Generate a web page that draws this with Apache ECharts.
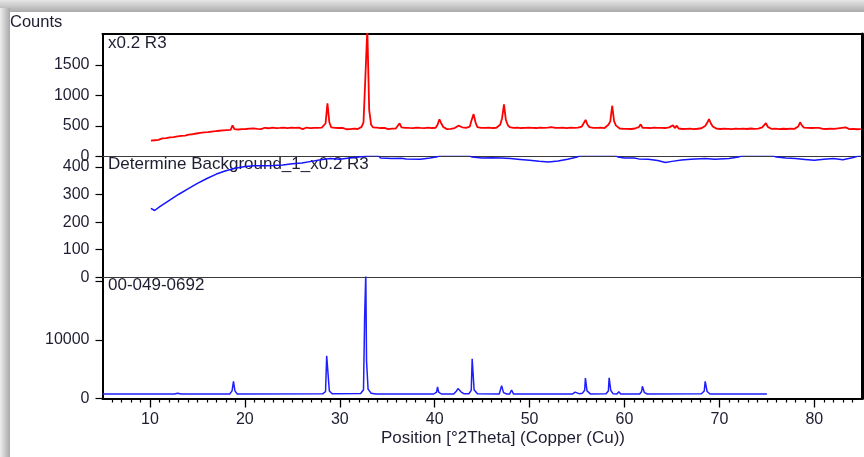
<!DOCTYPE html>
<html>
<head>
<meta charset="utf-8">
<script src="https://cdn.jsdelivr.net/npm/echarts@6/dist/echarts.min.js"></script>
<style>
  html, body { margin: 0; padding: 0; background: #fff; }
  #chart { width: 864px; height: 457px; }
</style>
</head>
<body>
<div id="chart"></div>
<script>
// Measured scan "x0.2 R3": counts at 0.2 °2θ steps, first point at 10.1 °2θ
const scanStart = 10.1;
const scanStep = 0.2;
const scanCounts = [
  258, 274, 265, 283, 271, 279, 296, 284, 300, 292, 312, 301, 318, 309, 328, 316, 338, 327, 342, 335, 356, 343, 364, 352, 376,
  366, 386, 372, 394, 381, 400, 389, 408, 396, 414, 402, 421, 409, 426, 414, 431, 419, 436, 510, 448, 424, 442, 428, 447, 433,
  450, 436, 455, 440, 460, 444, 452, 466, 447, 458, 470, 449, 462, 453, 471, 455, 465, 449, 468, 458, 474, 452, 466, 460, 472,
  455, 468, 450, 471, 459, 448, 466, 474, 455, 463, 449, 470, 458, 468, 452, 472, 482, 540, 870, 560, 475, 452, 469, 447, 466,
  451, 468, 455, 446, 463, 449, 470, 456, 466, 450, 472, 485, 560, 1310, 2100, 760, 520, 478, 455, 472, 450, 466, 452, 470, 457,
  449, 468, 455, 472, 458, 476, 543, 478, 452, 470, 456, 467, 449, 465, 457, 473, 452, 468, 450, 464, 455, 471, 458, 466, 450,
  470, 520, 610, 540, 482, 462, 448, 468, 453, 471, 466, 480, 505, 525, 478, 455, 470, 462, 490, 600, 694, 560, 480, 459, 470,
  452, 468, 455, 473, 450, 466, 449, 470, 478, 520, 628, 855, 597, 515, 482, 492, 468, 452, 471, 456, 466, 448, 469, 455, 472,
  454, 470, 449, 466, 458, 474, 451, 468, 456, 471, 462, 480, 503, 470, 452, 467, 449, 471, 456, 465, 450, 472, 457, 468, 452,
  471, 462, 490, 510, 600, 520, 480, 455, 470, 449, 468, 453, 472, 459, 466, 478, 520, 575, 832, 580, 505, 480, 458, 470, 451,
  469, 453, 471, 450, 466, 458, 472, 480, 526, 470, 452, 468, 449, 466, 455, 472, 451, 468, 457, 470, 449, 466, 458, 476, 455,
  510, 465, 505, 458, 470, 450, 467, 453, 472, 456, 465, 448, 469, 454, 471, 462, 474, 500, 548, 614, 540, 492, 472, 455, 468,
  450, 469, 455, 472, 452, 466, 449, 470, 457, 468, 451, 473, 456, 465, 450, 474, 458, 470, 452, 468, 456, 472, 478, 495, 545,
  485, 466, 451, 470, 455, 468, 449, 467, 454, 471, 450, 466, 457, 473, 452, 474, 490, 560, 505, 472, 453, 469, 450, 466, 455,
  470, 452, 467, 475, 453, 469, 450, 478, 456, 470, 451, 474, 460, 448, 468, 455, 476, 458, 449, 467, 452, 470, 446, 462, 448
];

// Fitted background "Determine Background_1_x0.2 R3": [°2θ, counts]
const backgroundCurve = [
  [10.1, 250], [10.5, 242], [11, 255], [12, 278], [13, 300], [14, 320], [15, 340], [16, 358],
  [17, 374], [18, 386], [19, 395], [20, 401], [21, 404], [22, 404], [23, 405], [24, 407],
  [25, 411], [26, 414], [27, 420], [28, 426], [29, 430], [30, 428], [31, 432], [32, 436],
  [33, 440], [34, 442], [34.3, 432], [35.5, 430], [36.5, 431], [37, 429], [38.5, 428], [39.5, 432],
  [40.3, 437], [40.6, 442], [43.6, 442], [43.9, 436], [45, 432], [46, 433], [47, 432], [48, 430],
  [49, 427], [50, 424], [51, 420], [52, 418], [53, 421], [54, 428], [55, 436], [55.4, 442],
  [59, 442], [59.3, 436], [60, 432], [61, 432], [61.5, 429], [62.5, 428], [63.5, 423], [64.3, 416],
  [65, 420], [66, 425], [67, 428], [68.5, 430], [69.5, 428], [71, 430], [72, 436], [72.5, 442],
  [75.5, 442], [76, 436], [77, 432], [78, 430], [79, 427], [80, 424], [81, 428], [82, 430],
  [83, 426], [84, 433], [84.9, 442]
];

// Reference pattern 00-049-0692: [°2θ, intensity]
const referencePattern = [
  [5.0, 750], [12.6, 755], [12.9, 900], [13.05, 1050], [13.3, 760],
  [18.4, 770], [18.65, 1300], [18.8, 2950], [18.95, 1300], [19.2, 770],
  [28.2, 800], [28.5, 1200], [28.62, 7300], [28.7, 7600], [28.78, 7000], [28.9, 1300], [29.2, 800],
  [32.2, 850], [32.5, 1500], [32.62, 14000], [32.74, 21500], [32.82, 6400], [32.92, 6200], [32.98, 1600], [33.3, 900], [33.8, 770],
  [39.9, 770], [40.2, 1100], [40.3, 2000], [40.42, 1100], [40.7, 770],
  [42.0, 780], [42.3, 1300], [42.45, 1700], [42.55, 1400], [42.65, 1750], [42.8, 1100], [43.1, 800],
  [43.6, 820], [43.85, 1400], [43.95, 6800], [44.05, 7000], [44.15, 1500], [44.5, 800],
  [46.8, 780], [47.0, 1100], [47.05, 2200], [47.12, 2100], [47.25, 1000], [47.6, 770],
  [47.9, 780], [48.1, 1450], [48.3, 780],
  [54.5, 760], [54.8, 1100], [55.0, 1150], [55.25, 800],
  [55.55, 880], [55.8, 1400], [55.88, 3500], [55.95, 3300], [56.05, 1300], [56.4, 790],
  [58.05, 800], [58.3, 1300], [58.38, 3550], [58.45, 3300], [58.55, 1400], [58.8, 800],
  [59.2, 770], [59.4, 1150], [59.6, 770],
  [61.6, 770], [61.8, 1200], [61.88, 2100], [61.95, 1800], [62.1, 1000], [62.4, 770],
  [68.1, 800], [68.4, 1300], [68.5, 2950], [68.58, 2800], [68.7, 1200], [69.0, 780],
  [75.0, 750]
];

// Axis ticks and labels
const xMajorTicks = [10, 20, 30, 40, 50, 60, 70, 80];
const xMinorTicks = [6, 7, 8, 9, 11, 12, 13, 14, 15, 16, 17, 18, 19, 21, 22, 23, 24, 25, 26, 27, 28, 29,
  31, 32, 33, 34, 35, 36, 37, 38, 39, 41, 42, 43, 44, 45, 46, 47, 48, 49, 51, 52, 53, 54, 55, 56, 57, 58, 59,
  61, 62, 63, 64, 65, 66, 67, 68, 69, 71, 72, 73, 74, 75, 76, 77, 78, 79, 81, 82, 83, 84];
const scanTicks = [0, 500, 1000, 1500];
const backgroundTicks = [0, 100, 200, 300, 400];
const referenceTicks = [0, 10000, 20000];
const referenceLabels = [0, 10000];
const panelTitles = ['x0.2 R3', 'Determine Background_1_x0.2 R3', '00-049-0692'];
const yAxisTitle = 'Counts';
const xAxisTitle = 'Position [°2Theta] (Copper (Cu))';

const scanData = scanCounts.map((v, i) => [+(scanStart + i * scanStep).toFixed(1), v]);

const FONT = '"Liberation Sans", Arial, sans-serif';
const TEXT = '#1e1e32';
const TITLE_FONT = '17px ' + FONT;
const X_MIN = 5, X_MAX = 85;
const plain = v => String(v);

const grids = [
  { left: 102.5, right: 2.2, top: 34, height: 122.4 },
  { left: 102.5, right: 2.2, top: 156.4, height: 120.9 },
  { left: 102.5, right: 2.2, top: 277.3, height: 121.2 }
];

function hiddenX(gridIndex, position, line) {
  return {
    type: 'value', gridIndex, position, min: X_MIN, max: X_MAX,
    axisLine: { show: !!line, onZero: false, lineStyle: line || {} },
    axisTick: { show: false }, axisLabel: { show: false }, splitLine: { show: false }
  };
}

function leftY(gridIndex, max, ticks, labels) {
  return {
    type: 'value', gridIndex, position: 'left', min: 0, max,
    axisLine: { show: true, lineStyle: { color: '#000', width: 2 } },
    axisTick: { show: true, customValues: ticks, length: 7, lineStyle: { color: '#000', width: 1.2 } },
    axisLabel: { show: true, customValues: labels, formatter: plain, margin: 13, color: TEXT, fontSize: 16, fontFamily: FONT },
    splitLine: { show: false }
  };
}

function rightY(gridIndex) {
  return {
    type: 'value', gridIndex, position: 'right', min: 0, max: 1,
    axisLine: { show: true, lineStyle: { color: '#000', width: 3 } },
    axisTick: { show: false }, axisLabel: { show: false }, splitLine: { show: false }
  };
}

const chart = echarts.init(document.getElementById('chart'), null, { renderer: 'canvas' });

chart.setOption({
  animation: false,
  backgroundColor: '#ffffff',
  grid: grids,
  xAxis: [
    hiddenX(0, 'bottom', { color: '#3a3a3a', width: 1.2 }),
    hiddenX(0, 'top', { color: '#000', width: 2 }),
    hiddenX(1, 'bottom', { color: '#3a3a3a', width: 1.2 }),
    {
      type: 'value', gridIndex: 2, position: 'bottom', min: X_MIN, max: X_MAX,
      axisLine: { show: true, onZero: false, lineStyle: { color: '#000', width: 2 } },
      axisTick: { show: true, customValues: xMajorTicks, length: 9, lineStyle: { color: '#000', width: 1.3 } },
      axisLabel: { show: true, customValues: xMajorTicks, formatter: plain, margin: 13, color: TEXT, fontSize: 16, fontFamily: FONT },
      splitLine: { show: false }
    },
    {
      type: 'value', gridIndex: 2, position: 'bottom', min: X_MIN, max: X_MAX,
      axisLine: { show: false },
      axisTick: { show: true, customValues: xMinorTicks, length: 4, lineStyle: { color: '#000', width: 1.2 } },
      axisLabel: { show: false }, splitLine: { show: false }
    }
  ],
  yAxis: [
    leftY(0, 2010, scanTicks, scanTicks),
    leftY(1, 438, backgroundTicks, backgroundTicks),
    leftY(2, 20750, referenceTicks, referenceLabels),
    rightY(0), rightY(1), rightY(2)
  ],
  series: [
    {
      name: panelTitles[0], type: 'line', xAxisIndex: 0, yAxisIndex: 0,
      data: scanData, showSymbol: false, symbol: 'none', clip: true,
      lineStyle: { color: '#ff0000', width: 1.8 }
    },
    {
      name: panelTitles[1], type: 'line', xAxisIndex: 2, yAxisIndex: 1,
      data: backgroundCurve, showSymbol: false, symbol: 'none', clip: true,
      lineStyle: { color: '#1414ff', width: 1.5 }
    },
    {
      name: panelTitles[2], type: 'line', xAxisIndex: 3, yAxisIndex: 2,
      data: referencePattern, showSymbol: false, symbol: 'none', clip: true,
      lineStyle: { color: '#1e1eff', width: 1.5 }
    }
  ],
  graphic: [
    // window drop shadow along the top and left edges
    {
      type: 'rect', z: -10, silent: true,
      shape: { x: 0, y: 0, width: 864, height: 12 },
      style: { fill: new echarts.graphic.LinearGradient(0, 0, 0, 1, [
        { offset: 0, color: '#e6e6e6' }, { offset: 1, color: '#ababab' }]) }
    },
    {
      type: 'rect', z: -10, silent: true,
      shape: { x: 0, y: 8, width: 10, height: 449 },
      style: { fill: new echarts.graphic.LinearGradient(0, 0, 1, 0, [
        { offset: 0, color: '#eeeeee' }, { offset: 1, color: '#a8a8a8' }]) }
    },
    { type: 'text', x: 10, y: 22, silent: true,
      style: { text: yAxisTitle, font: '16.5px ' + FONT, fill: TEXT, align: 'left', verticalAlign: 'middle' } },
    { type: 'text', x: 108, y: 43, silent: true,
      style: { text: panelTitles[0], font: TITLE_FONT, fill: TEXT, align: 'left', verticalAlign: 'middle' } },
    { type: 'text', x: 108, y: 164, silent: true,
      style: { text: panelTitles[1], font: TITLE_FONT, fill: TEXT, align: 'left', verticalAlign: 'middle' } },
    { type: 'text', x: 108, y: 285, silent: true,
      style: { text: panelTitles[2], font: TITLE_FONT, fill: TEXT, align: 'left', verticalAlign: 'middle' } },
    { type: 'text', x: 503, y: 438, silent: true,
      style: { text: xAxisTitle, font: TITLE_FONT, fill: TEXT, align: 'center', verticalAlign: 'middle' } }
  ]
});
</script>
</body>
</html>
